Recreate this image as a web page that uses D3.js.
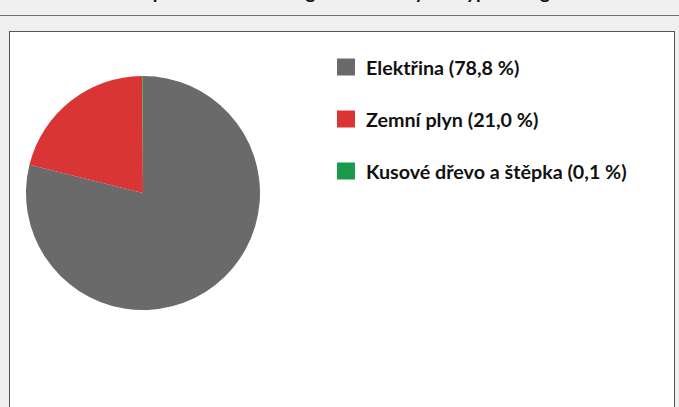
<!DOCTYPE html>
<html>
<head>
<meta charset="utf-8">
<script src="https://cdn.jsdelivr.net/npm/d3@7"></script>
<style>
  html, body { margin: 0; padding: 0; background: #f0f0f0; }
  svg { display: block; }
</style>
</head>
<body>
<svg width="679" height="407"></svg>
<script>
// chart data
var categories = ["Elektřina", "Zemní plyn", "Kusové dřevo a štěpka"];
var shares = [78.8, 21.0, 0.1];
var labels = ["Elektřina (78,8 %)", "Zemní plyn (21,0 %)", "Kusové dřevo a štěpka (0,1 %)"];
var colours = ["#6a6a6b", "#d93535", "#1a9a4a"];
var title = "Roční podíl dodané energie do budovy dle typu energie";

var svg = d3.select("svg"),
    width = +svg.attr("width"),
    height = +svg.attr("height");

// title strip, cut off at the top like the original
svg.append("text")
    .attr("x", 333)
    .attr("y", -1)
    .attr("text-anchor", "middle")
    .style("font-family", "Lato")
    .style("font-weight", 700)
    .style("font-size", "19px")
    .style("fill", "#111")
    .text(title);

svg.append("line")
    .attr("x1", 0).attr("x2", width)
    .attr("y1", 15.5).attr("y2", 15.5)
    .style("stroke", "#6e6e6e");

// white panel
svg.append("rect")
    .attr("x", 9.5).attr("y", 31.5)
    .attr("width", 665).attr("height", 400)
    .style("fill", "#fff")
    .style("stroke", "#555");

// pie
var radius = 117;
var g = svg.append("g")
    .attr("transform", "translate(143,193)");

var pie = d3.pie().sort(null).value(d => d);
var arc = d3.arc().innerRadius(0).outerRadius(radius);

g.selectAll("path")
    .data(pie(shares))
    .enter().append("path")
    .attr("d", arc)
    .attr("fill", (d, i) => colours[i]);

// legend
var y = d3.scalePoint()
    .domain(categories)
    .range([67, 171]);

var legend = svg.append("g")
    .selectAll("g")
    .data(categories)
    .enter().append("g")
    .attr("transform", d => "translate(337," + y(d) + ")");

legend.append("rect")
    .attr("x", 0).attr("y", -8.5)
    .attr("width", 18).attr("height", 17)
    .attr("fill", (d, i) => colours[i]);

legend.append("text")
    .attr("x", 29)
    .attr("y", 7.5)
    .style("font-family", "Lato")
    .style("font-weight", 700)
    .style("font-size", "19.7px")
    .style("fill", "#111")
    .text((d, i) => labels[i]);
</script>
</body>
</html>
